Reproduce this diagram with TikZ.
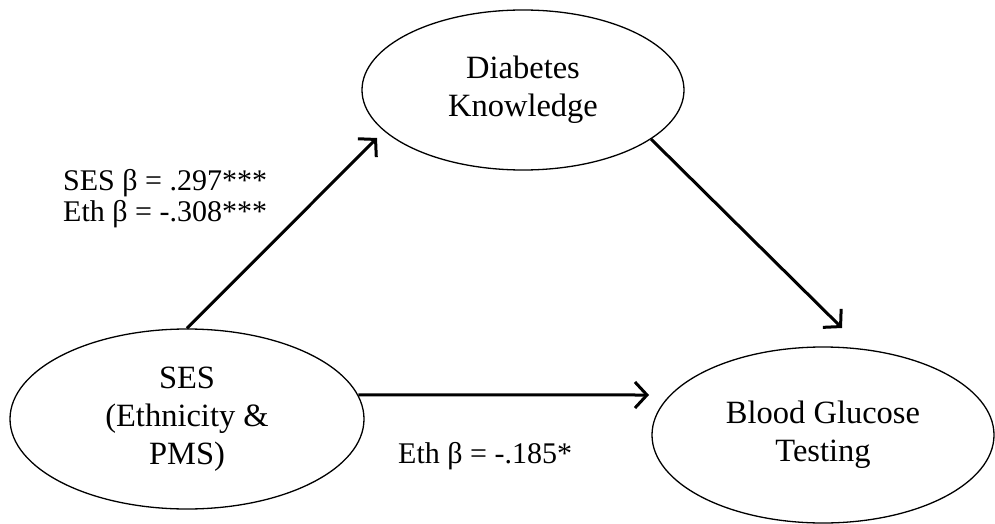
\documentclass[tikz,border=0pt]{standalone}
\usepackage{fontspec}
\setmainfont{Liberation Serif}
\usetikzlibrary{arrows.meta,shapes.geometric}
\begin{document}
\begin{tikzpicture}[x=1pt,y=1pt,
  ell/.style={draw, ellipse, line width=1.3pt, inner sep=0pt, align=center,
    font=\fontsize{32.5}{38}\selectfont},
  conn/.style={line width=3pt, -{Straight Barb[length=12pt,width=26pt]}},
  lbl/.style={inner sep=0pt, align=left, font=\fontsize{30}{31}\selectfont}]
\useasboundingbox (0,0) rectangle (995,523);
\node[ell, minimum width=322pt, minimum height=160pt] (dk) at (523,433) {Diabetes\\Knowledge};
\node[ell, minimum width=354pt, minimum height=180pt] (ses) at (187,104) {SES\\(Ethnicity \&\\PMS)};
\node[ell, minimum width=342pt, minimum height=176pt] (bgt) at (823,88) {Blood Glucose\\Testing};
\coordinate (t1) at (377,385);
\coordinate (t2) at (842,195);
\coordinate (t3) at (649,128);
\draw[conn] (ses.north) -- (t1);
\draw[conn] (dk.-21) -- (t2);
\draw[conn] (ses.8) -- (t3);
\node[lbl, anchor=west] (l1) at (63,324) {SES β = .297***\\Eth β = -.308***};
\node[lbl, anchor=base west] (l2) at (398,60) {Eth β = -.185*};
\end{tikzpicture}
\end{document}
